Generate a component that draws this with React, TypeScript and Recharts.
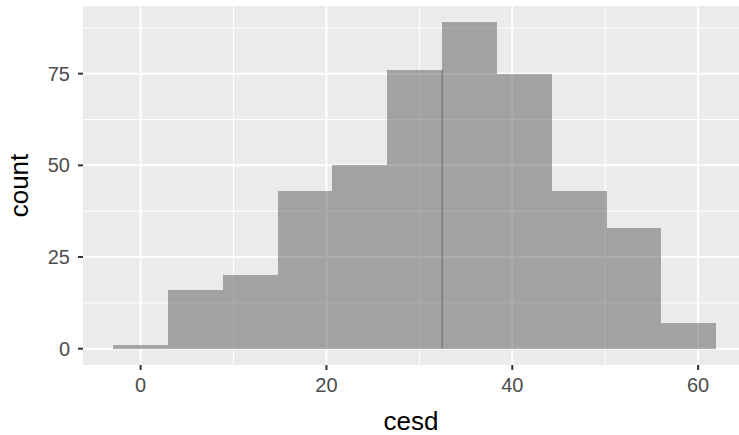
import React from 'react';
import {
  ComposedChart,
  Bar,
  XAxis,
  YAxis,
  CartesianGrid,
  ReferenceLine
} from 'recharts';

// histogram of cesd, 11 bins of width 5.9
const BIN_CENTERS = [0, 5.9, 11.8, 17.7, 23.6, 29.5, 35.4, 41.3, 47.2, 53.1, 59];
const COUNTS = [1, 16, 20, 43, 50, 76, 89, 75, 43, 33, 7];
const BIN_WIDTH = 5.9;

const X_TICKS = [0, 20, 40, 60];
const X_MINOR = [10, 30, 50];
const Y_TICKS = [0, 25, 50, 75];
const Y_MINOR = [12.5, 37.5, 62.5, 87.5];

// dark seam between bins 6 and 7
const SEAM_X = 32.45;
const SEAM_TOP = 76;

const X_DOMAIN = [-6.2, 64.4];
const Y_DOMAIN = [-4.45, 93.45];

const CHART_W = 739;
const CHART_H = 435;
const Y_AXIS_W = 83;
const PLOT_W = CHART_W - Y_AXIS_W;
// pixel width of one bin so bars butt up against each other
const BAR_PX = (BIN_WIDTH * PLOT_W) / (X_DOMAIN[1] - X_DOMAIN[0]) - 0.001;

const FONT = '"Liberation Sans", Arial, Helvetica, sans-serif';

if (typeof document !== 'undefined') {
  document.body.style.margin = '0';
}

const data = BIN_CENTERS.map((x, i) => ({ x, count: COUNTS[i] }));

// snap bin edges to whole pixels so neighbouring bins neither overlap nor gap
const BinShape = (props: any) => {
  const { x, y, width, height, fill, fillOpacity } = props;
  if (!height) return null;
  const x0 = Math.round(x);
  const x1 = Math.round(x + width);
  return (
    <rect
      x={x0}
      y={y}
      width={x1 - x0}
      height={height}
      fill={fill}
      fillOpacity={fillOpacity}
      shapeRendering="crispEdges"
    />
  );
};

export default function App() {
  return (
    <div style={{ width: CHART_W, height: CHART_H, background: '#fff', fontFamily: FONT }}>
      <ComposedChart
        width={CHART_W}
        height={CHART_H}
        data={data}
        margin={{ top: 6, right: 0, left: 0, bottom: 0 }}
        barCategoryGap={0}
        barGap={0}
      >
        <CartesianGrid
          fill="#EBEBEB"
          stroke="#FFFFFF"
          strokeWidth={1}
          verticalValues={X_MINOR}
          horizontalValues={Y_MINOR}
        />
        <CartesianGrid
          stroke="#FFFFFF"
          strokeWidth={2}
          verticalValues={X_TICKS}
          horizontalValues={Y_TICKS}
        />
        <XAxis
          dataKey="x"
          type="number"
          domain={X_DOMAIN}
          ticks={X_TICKS}
          allowDataOverflow
          height={70}
          axisLine={false}
          tickSize={5}
          tickMargin={8}
          tickLine={{ stroke: '#333333', strokeWidth: 2 }}
          tick={{ fill: '#4D4D4D', fontSize: 20, fontFamily: FONT }}
          label={{ value: 'cesd', position: 'insideBottom', offset: 5, fill: '#000000', fontSize: 26, fontFamily: FONT }}
        />
        <YAxis
          type="number"
          domain={Y_DOMAIN}
          ticks={Y_TICKS}
          allowDataOverflow
          width={Y_AXIS_W}
          axisLine={false}
          tickSize={5}
          tickMargin={8}
          tickLine={{ stroke: '#333333', strokeWidth: 2 }}
          tick={{ fill: '#4D4D4D', fontSize: 20, fontFamily: FONT }}
          label={{ value: 'count', angle: -90, position: 'insideLeft', offset: 19, fill: '#000000', fontSize: 26, fontFamily: FONT, style: { textAnchor: 'middle' } }}
        />
        <Bar
          dataKey="count"
          fill="#595959"
          fillOpacity={0.5}
          barSize={BAR_PX}
          shape={BinShape}
          isAnimationActive={false}
        />
        <ReferenceLine
          segment={[{ x: SEAM_X, y: 0 }, { x: SEAM_X, y: SEAM_TOP }]}
          stroke="#6E6E6E"
          strokeWidth={1}
        />
      </ComposedChart>
    </div>
  );
}
